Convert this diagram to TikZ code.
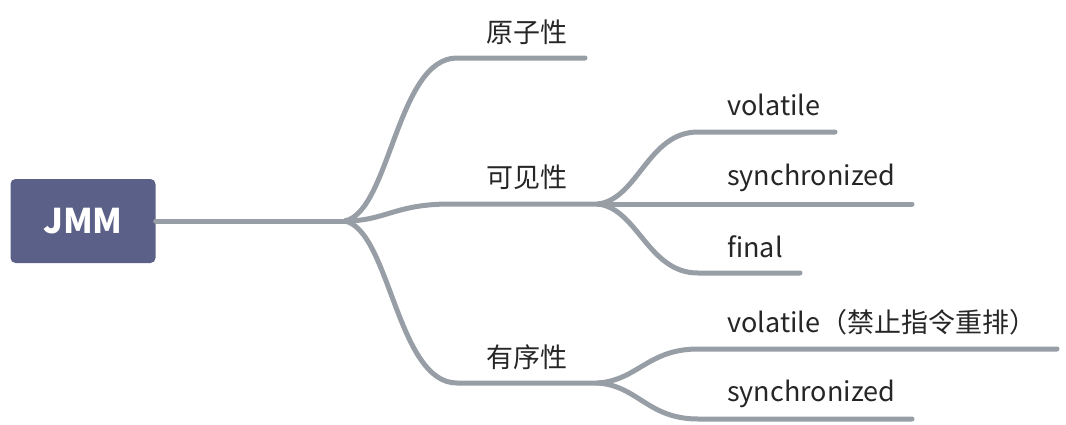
\documentclass[tikz,border=0pt]{standalone}
\usepackage{fontspec}
\setmainfont{Noto Sans CJK SC}
\usetikzlibrary{positioning}

\definecolor{rootblue}{RGB}{90,96,135}
\definecolor{branchgray}{RGB}{152,158,166}
\definecolor{labelink}{RGB}{38,38,38}

\begin{document}
\begin{tikzpicture}[x=1pt, y=-1pt,
    rootbox/.style={fill=rootblue, rounded corners=5pt, minimum width=145pt,
      minimum height=84pt, text=white, font=\fontsize{34}{38}\selectfont\bfseries},
    branch/.style={draw=branchgray, line width=5pt, line cap=round},
    topic/.style={text=labelink, inner sep=0pt, font=\fontsize{27}{31}\selectfont},
    leaf/.style={topic, anchor=base west}]
  \useasboundingbox (0,0) rectangle (1066,424);

  % Central topic
  \node[rootbox] (jmm) at (83,221) {JMM};

  % Fork points and line ends
  \coordinate (fork) at (345,221);
  \coordinate (atomS) at (457,58);   \coordinate (atomE) at (585,58);
  \coordinate (visS) at (450,204);   \coordinate (visE) at (598,204);
  \coordinate (ordS) at (457,383);   \coordinate (ordE) at (598,383);

  \coordinate (volS) at (698,132);   \coordinate (volE) at (835,132);
  \coordinate (synE) at (912,204);
  \coordinate (finS) at (698,273);   \coordinate (finE) at (800,273);

  \coordinate (ovolS) at (698,349);  \coordinate (ovolE) at (1057,349);
  \coordinate (osynS) at (698,419);  \coordinate (osynE) at (912,419);

  % Main branches
  \draw[branch] (jmm.east) -- (fork);
  \draw[branch] (fork) .. controls +(45,-10) and +(-60,0) .. (atomS) -- (atomE);
  \draw[branch] (fork) .. controls +(40,0) and +(-55,0) .. (visS) -- (visE);
  \draw[branch] (fork) .. controls +(45,10) and +(-60,0) .. (ordS) -- (ordE);

  % Sub branches of visibility
  \draw[branch] (visE) .. controls +(40,-5) and +(-50,0) .. (volS) -- (volE);
  \draw[branch] (visE) -- (synE);
  \draw[branch] (visE) .. controls +(40,5) and +(-50,0) .. (finS) -- (finE);

  % Sub branches of ordering
  \draw[branch] (ordE) .. controls +(40,-3) and +(-50,0) .. (ovolS) -- (ovolE);
  \draw[branch] (ordE) .. controls +(40,3) and +(-50,0) .. (osynS) -- (osynE);

  % Labels
  \node[topic] (atom) at (527,32) {原子性};
  \node[topic] (vis) at (527,177) {可见性};
  \node[topic] (ord) at (527,357) {有序性};

  \node[leaf] (vol) at (727,115) {volatile};
  \node[leaf] (syn) at (727,185) {synchronized};
  \node[leaf] (fin) at (727,257) {final};
  \node[leaf] (ovol) at (727,332) {volatile（禁止指令重排）};
  \node[leaf] (osyn) at (727,401) {synchronized};
\end{tikzpicture}
\end{document}
